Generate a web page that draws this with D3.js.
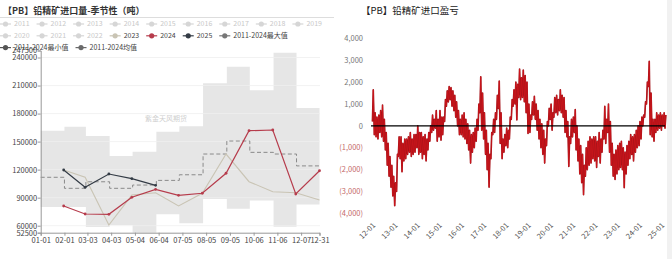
<!DOCTYPE html>
<html>
<head>
<meta charset="utf-8">
<script src="https://cdn.jsdelivr.net/npm/d3@7"></script>
<style>
  body { margin: 0; background: #fff; }
  svg { display: block; }
  text { font-family: "Noto Sans CJK SC", "Noto Sans", sans-serif; }
</style>
</head>
<body>
<div id="chart"></div>
<script>
const width = 672;
const height = 259;

// ---- left chart: lead concentrate imports, seasonal (tonnes) ----
const legendNames = ["2011", "2012", "2013", "2014", "2015", "2016", "2017", "2018", "2019",
  "2020", "2021", "2022", "2023", "2024", "2025", "2011-2024最大值", "2011-2024最小值", "2011-2024均值"];
const seasonTicks = ["01-01", "02-01", "03-03", "04-03", "05-04", "06-04", "07-05", "08-05",
  "09-05", "10-06", "11-06", "12-07", "12-31"];
const seasonYTicks = [52500, 60000, 90000, 120000, 150000, 180000, 210000, 240000, 247500];

const bandMax = [161600, 166000, 156000, 134600, 139200, 160600, 166500, 212500, 230000, 205000, 245000, 186000];
const bandMin = [80000, 80000, 58600, 60700, 52500, 72200, 62700, 88700, 78000, 87000, 58900, 82800];
const meanVals = [111800, 100000, 107000, 100000, 103500, 108500, 114500, 136700, 150600, 138500, 136700, 124000];
const y2023 = [119600, 111800, 60700, 92800, 95300, 81100, 94700, 136700, 107100, 96400, 95300, 87500];
const y2024 = [81100, 72500, 72200, 90400, 98900, 92500, 94700, 116100, 161700, 162400, 93900, 118800];
const y2025 = [119600, 101100, 115300, 110300, 103200];

// ---- right chart: import profit / loss (yuan/t), monthly low & high ----
const profitStart = [2012, 0];
const profitLow = [
  200, -400, -500, -600, -300, -500, -700, -1100, -1800, -2300, -2800, -3200,      // 2012
  -3650, -3000, -1400, -1500, -2100, -1600, -1500, -1300, -1200, -1400, -1300, -1200, // 2013
  -1000, -1300, -1200, -1500, -1300, -1600, -1100, -700, -300, -200, -100, -700,   // 2014
  -500, -650, -400, 200, 900, 1100, 1200, 900, 700, 400, 0, -400,                  // 2015
  -400, -500, -600, -800, -1100, -1700, -1200, -1000, -700, -200, 600, -200,       // 2016
  -600, -1300, -2000, -2800, -1500, -400, -300, 300, 800, -800, -1500, -1200,      // 2017
  -900, -1000, -600, 300, 900, 1000, 270, 1300, 1200, 1300, 1100, 600,             // 2018
  -350, -300, 300, 500, 300, -200, -600, -1000, -1300, -1700, -900, 0,             // 2019
  300, -200, 400, 600, 500, 700, 600, 400, -300, -500, -1850, -800,                // 2020
  -500, -300, -1100, -1600, -2200, -2600, -3150, -2300, -2000, -1800, -1700, -1500, // 2021
  -1600, -1900, -1400, -1700, -1200, -600, -800, -300, -1200, -1800, -2300, -2450, // 2022
  -2200, -2000, -1900, -2000, -2830, -2200, -1800, -1500, -1300, -1600, -1200, -1000, // 2023
  -900, -600, 0, 400, 1000, 1800, -400, -500, -700, -300, -200, -100,              // 2024
  -200, 0, -100                                                                    // 2025
];
const profitHigh = [
  1650, 600, 400, 500, 700, 950, 300, -300, -800, -1400, -1800, -2300,             // 2012
  -2600, -1300, -500, -500, -800, -600, -600, -500, -300, -600, -400, -400,        // 2013
  0, -300, -300, -500, -400, -600, -300, 0, 500, 300, 700, 300,                    // 2014
  700, 400, 400, 1200, 1600, 1800, 1750, 1600, 1400, 1100, 700, 300,               // 2015
  500, 600, 300, 100, -200, -400, -300, -100, 300, 1000, 2250, 1500,               // 2016
  600, -200, -800, -1300, -300, 300, 600, 1400, 2050, 600, -600, -400,             // 2017
  -100, -200, 400, 1200, 1650, 2000, 1900, 2600, 2200, 2550, 2300, 2000,           // 2018
  1000, 500, 1100, 1350, 1000, 700, 300, 100, -200, -600, 200, 800,                // 2019
  1000, 600, 1300, 1400, 1200, 1650, 1400, 1300, 700, 200, -500, 300,              // 2020
  400, 750, 0, -600, -900, -1300, -1800, -1000, -700, -500, -600, -500,            // 2021
  -500, -700, -300, -600, -200, 900, 300, 1000, 200, -800, -1300, -1100,           // 2022
  -900, -800, -700, -1000, -1200, -900, -700, -400, -500, -400, -200, 0,           // 2023
  200, 400, 500, 1100, 2000, 2950, 1500, 300, 300, 600, 500, 600,                  // 2024
  500, 600, 500                                                                    // 2025
];
const profitTicks = ["12-01", "13-01", "14-01", "15-01", "16-01", "17-01", "18-01",
  "19-01", "20-01", "21-01", "22-01", "23-01", "24-01", "25-01"];
const profitYTicks = [4000, 3000, 2000, 1000, 0, -1000, -2000, -3000, -4000];

const svg = d3.select("#chart")
  .append("svg")
  .attr("width", width)
  .attr("height", height);

// ================= left chart =================
const parseMD = d3.timeParse("%Y-%m-%d");
const monthStart = m => new Date(2021, m, 1);
const monthEnd = m => new Date(2021, m + 1, 0);

const sx = d3.scaleTime()
  .domain([parseMD("2021-01-01"), parseMD("2021-12-31")])
  .range([40.7, 319.5]);
const sy = d3.scaleLinear()
  .domain([52500, 247500])
  .range([232.7, 50.5]);

svg.append("text")
  .attr("x", 3)
  .attr("y", 14)
  .attr("font-size", 9)
  .attr("font-weight", "bold")
  .attr("fill", "#333")
  .text("【PB】铅精矿进口量-季节性（吨）");

svg.append("line")
  .attr("x1", 0).attr("x2", 334)
  .attr("y1", 17.5).attr("y2", 17.5)
  .attr("stroke", "#ddd");

// min-max band, stepped per month
const bandPts = [];
bandMax.forEach((v, i) => {
  const end = i === 11 ? parseMD("2021-12-31") : monthStart(i + 1);
  bandPts.push({ d: monthStart(i), hi: v, lo: bandMin[i] });
  bandPts.push({ d: end, hi: v, lo: bandMin[i] });
});

svg.append("path")
  .datum(bandPts)
  .attr("fill", "#e6e6e6")
  .attr("d", d3.area()
    .x(d => sx(d.d))
    .y0(d => sy(Math.max(d.lo, 52500)))
    .y1(d => sy(d.hi)));

// grid
svg.append("g")
  .selectAll("line")
  .data(seasonYTicks.slice(1, -1))
  .join("line")
  .attr("x1", 41).attr("x2", 320)
  .attr("y1", d => sy(d)).attr("y2", d => sy(d))
  .attr("stroke", "#efefef")
  .attr("stroke-width", 0.8);

svg.append("text")
  .attr("x", 166)
  .attr("y", 120.5)
  .attr("text-anchor", "middle")
  .attr("font-size", 7)
  .attr("fill", "#cfcfcf")
  .text("紫金天风期货");

// mean, stepped dashed
const meanPts = [];
meanVals.forEach((v, i) => {
  const end = i === 11 ? parseMD("2021-12-31") : monthStart(i + 1);
  meanPts.push({ d: monthStart(i), v });
  meanPts.push({ d: end, v });
});
svg.append("path")
  .datum(meanPts)
  .attr("fill", "none")
  .attr("stroke", "#8a8a8a")
  .attr("stroke-width", 1)
  .attr("stroke-dasharray", "4,2.5")
  .attr("d", d3.line().x(d => sx(d.d)).y(d => sy(d.v)));

const seasonLine = d3.line()
  .x((d, i) => sx(monthEnd(i)))
  .y(d => sy(d));

const yearSeries = [
  { vals: y2023, color: "#c9c4b4", width: 1.1, dots: false },
  { vals: y2024, color: "#b63c4c", width: 1.2, dots: true },
  { vals: y2025, color: "#333b45", width: 1.2, dots: true }
];

yearSeries.forEach(s => {
  svg.append("path")
    .datum(s.vals)
    .attr("fill", "none")
    .attr("stroke", s.color)
    .attr("stroke-width", s.width)
    .attr("d", seasonLine);
  if (s.dots) {
    svg.append("g")
      .selectAll("circle")
      .data(s.vals)
      .join("circle")
      .attr("cx", (d, i) => sx(monthEnd(i)))
      .attr("cy", d => sy(d))
      .attr("r", 1.4)
      .attr("fill", s.color);
  }
});

// axes
const axisL = svg.append("g")
  .attr("transform", "translate(40.7,0)")
  .call(d3.axisLeft(sy).tickValues(seasonYTicks).tickSize(3).tickFormat(d3.format("d")));
const axisB = svg.append("g")
  .attr("transform", "translate(0,232.7)")
  .call(d3.axisBottom(sx)
    .tickValues(seasonTicks.map(t => parseMD("2021-" + t)))
    .tickSize(3)
    .tickFormat(d3.timeFormat("%m-%d")));
[axisL, axisB].forEach(a => {
  a.select(".domain").attr("stroke", "#999");
  a.selectAll(".tick line").attr("stroke", "#999");
  a.selectAll(".tick text")
    .attr("fill", "#444")
    .attr("font-size", 7.5)
    .attr("font-family", "Noto Sans, sans-serif");
});
axisL.selectAll(".tick text").attr("x", -3.5);
axisB.selectAll(".tick text").attr("y", 5);

// legend (flow layout)
const legendColor = name => {
  if (name === "2023") return "#c9c4b4";
  if (name === "2024") return "#b63c4c";
  if (name === "2025") return "#333b45";
  if (name.includes("最大")) return "#777";
  if (name.includes("最小")) return "#555";
  if (name.includes("均值")) return "#6a6a6a";
  return "#d6d6d6";
};
const legendText = name => (+name && +name < 2023) ? "#c8c8c8" : "#444";

let lx = 0, ly = 24;
const legend = svg.append("g");
legendNames.forEach(name => {
  const g = legend.append("g");
  const t = g.append("text")
    .attr("x", 14)
    .attr("y", 0)
    .attr("dy", "0.35em")
    .attr("font-size", 7)
    .attr("fill", legendText(name))
    .text(name);
  const w = 14 + t.node().getComputedTextLength() + 7;
  if (lx + w > 342) { lx = 0; ly += 11.8; }
  g.attr("transform", `translate(${lx},${ly})`);
  g.append("line")
    .attr("x1", 0).attr("x2", 11)
    .attr("stroke", legendColor(name))
    .attr("stroke-width", 1.2);
  g.append("circle")
    .attr("cx", 5.5).attr("r", 2.6)
    .attr("fill", legendColor(name));
  lx += w;
});

// ================= right chart =================
const px = d3.scaleTime()
  .domain([new Date(2012, 0, 1), new Date(2025, 0, 1)])
  .range([372, 661]);
const py = d3.scaleLinear()
  .domain([-4000, 4000])
  .range([213.4, 38.4]);

svg.append("rect")
  .attr("x", 667).attr("y", 0)
  .attr("width", 5).attr("height", height)
  .attr("fill", "#f1f1f1");

svg.append("text")
  .attr("x", 361)
  .attr("y", 14)
  .attr("font-size", 9.5)
  .attr("fill", "#222")
  .text("【PB】铅精矿进口盈亏");

const profitPts = [];
profitLow.forEach((lo, i) => {
  const y = profitStart[0] + Math.floor((profitStart[1] + i) / 12);
  const m = (profitStart[1] + i) % 12;
  profitPts.push({ d: new Date(y, m, 8), v: lo });
  profitPts.push({ d: new Date(y, m, 22), v: profitHigh[i] });
});

const profitLine = d3.line().x(d => px(d.d)).y(d => py(d.v));
svg.append("path")
  .datum(profitPts)
  .attr("fill", "none")
  .attr("stroke", "#9c1218")
  .attr("stroke-width", 1.6)
  .attr("stroke-linejoin", "round")
  .attr("d", profitLine);
svg.append("path")
  .datum(profitPts)
  .attr("fill", "none")
  .attr("stroke", "#d9151c")
  .attr("stroke-width", 0.6)
  .attr("stroke-linejoin", "round")
  .attr("d", profitLine);

svg.append("line")
  .attr("x1", 371).attr("x2", 665)
  .attr("y1", py(0)).attr("y2", py(0))
  .attr("stroke", "#000")
  .attr("stroke-width", 1.2);

const fmtProfit = v => v < 0 ? `(${d3.format(",")(-v)})` : d3.format(",")(v);
svg.append("g")
  .selectAll("text")
  .data(profitYTicks)
  .join("text")
  .attr("x", 363)
  .attr("y", d => py(d))
  .attr("dy", "0.35em")
  .attr("text-anchor", "end")
  .attr("font-size", 7.5)
  .attr("font-family", "Noto Sans, sans-serif")
  .attr("fill", d => d < 0 ? "#c46a6a" : "#777")
  .text(fmtProfit);

const parseYM = d3.timeParse("%y-%m");
svg.append("g")
  .selectAll("text")
  .data(profitTicks)
  .join("text")
  .attr("transform", d => `translate(${px(parseYM(d)) + 2},${224}) rotate(-45)`)
  .attr("text-anchor", "end")
  .attr("dy", "0.35em")
  .attr("font-size", 7.5)
  .attr("font-family", "Noto Sans, sans-serif")
  .attr("fill", "#555")
  .text(d => d);
</script>
</body>
</html>
